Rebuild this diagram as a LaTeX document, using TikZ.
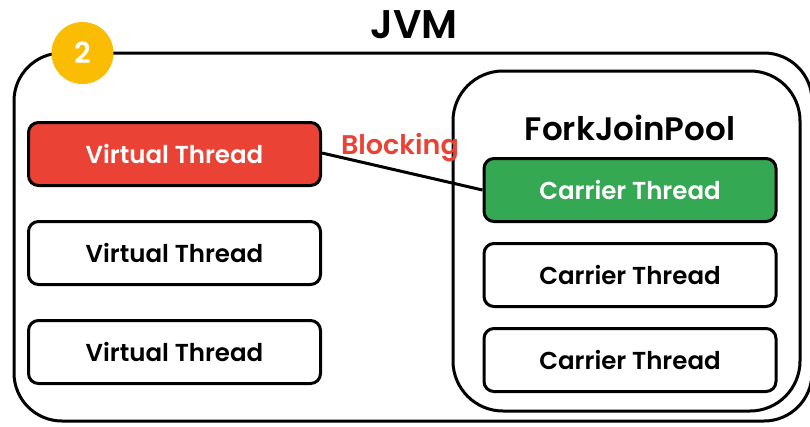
\documentclass[tikz,border=0pt]{standalone}
\usepackage{fontspec}
\setmainfont{Poppins}[BoldFont=Poppins SemiBold]
\definecolor{gred}{HTML}{EA4335}
\definecolor{ggreen}{HTML}{34A853}
\definecolor{gyellow}{HTML}{FBBC04}
\begin{document}
\begin{tikzpicture}[x=1pt,y=-1pt,
  thr/.style={draw=black,line width=3pt,rounded corners=10pt,minimum width=292pt,minimum height=63pt,inner sep=0pt,font=\fontsize{24.5}{28}\selectfont\bfseries},
  frame/.style={draw=black,line width=3pt}]
\useasboundingbox (0,0) rectangle (810,426);
% outer JVM box
\draw[frame,rounded corners=48pt] (14,53) rectangle (812,421);
\node[font=\fontsize{40}{44}\selectfont\bfseries] (jvm) at (414,25) {JVM};
% badge
\node[circle,fill=gyellow,minimum size=62pt,inner sep=0pt,text=white,font=\fontsize{29}{30}\selectfont\bfseries] (badge) at (82.5,53) {2};
% ForkJoinPool box
\draw[frame,rounded corners=50pt] (453,71) rectangle (800,411);
\node[font=\fontsize{32.5}{36}\selectfont\bfseries] (fjp) at (630,128) {ForkJoinPool};
% virtual threads
\node[thr,fill=gred,text=white] (v1) at (174.5,154) {Virtual Thread};
\node[thr] (v2) at (174.5,253) {Virtual Thread};
\node[thr] (v3) at (174.5,352) {Virtual Thread};
% carrier threads
\node[thr,fill=ggreen,text=white] (c1) at (630,190) {Carrier Thread};
\node[thr] (c2) at (630,275) {Carrier Thread};
\node[thr] (c3) at (630,360) {Carrier Thread};
% blocking link
\draw[line width=3pt] (v1.east) ++(0,-1) coordinate (vs) (vs) -- (c1.west);
\node[text=gred,font=\fontsize{27}{30}\selectfont\bfseries] (blk) at (400,148) {Blocking};
\end{tikzpicture}
\end{document}
